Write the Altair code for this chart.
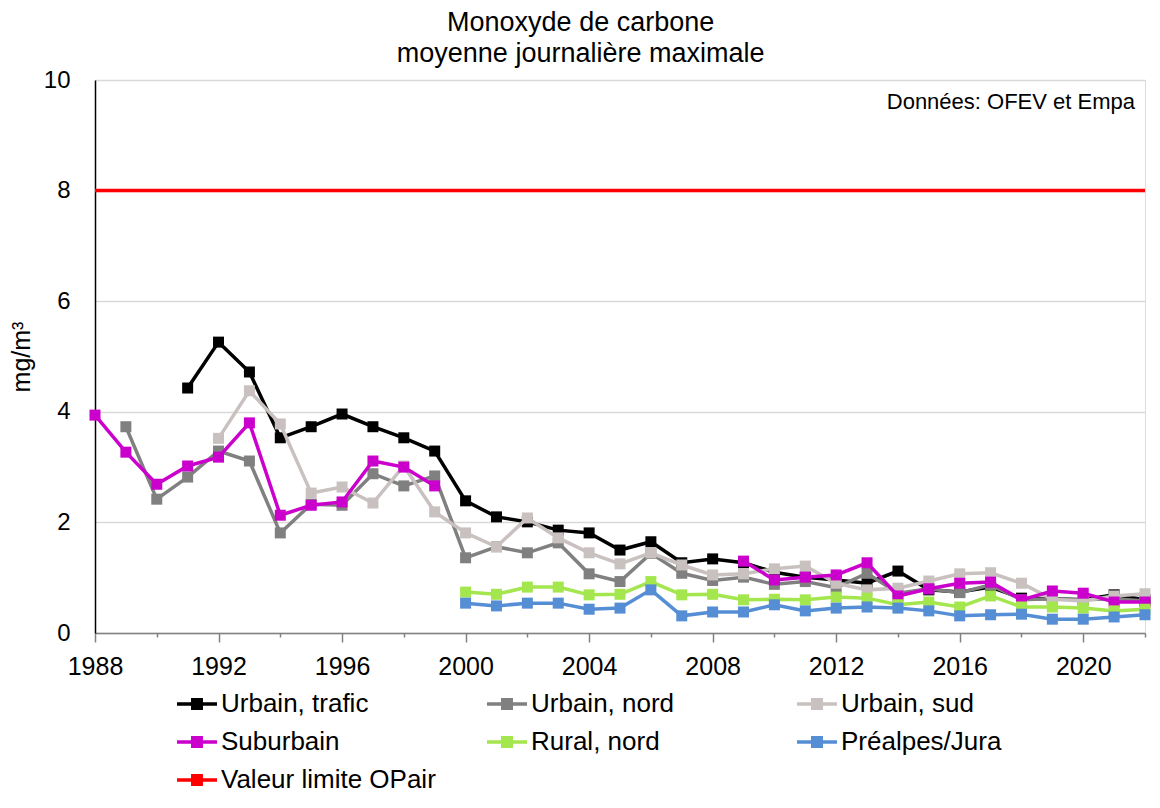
import altair as alt
import pandas as pd

FONT = "Liberation Sans"

years = list(range(1988, 2023))
N = None
urbain_trafic = [N, N, N, 4.43, 5.26, 4.72, 3.53, 3.73, 3.96, 3.73, 3.53, 3.29,
                 2.39, 2.10, 2.01, 1.86, 1.81, 1.50, 1.65, 1.27, 1.34, 1.27,
                 1.10, 1.01, 0.96, 0.90, 1.12, 0.78, 0.74, 0.83, 0.63, 0.62,
                 0.60, 0.69, 0.60]
urbain_nord = [N, 3.73, 2.42, 2.82, 3.29, 3.11, 1.81, 2.33, 2.31, 2.88, 2.66, 2.84,
               1.36, 1.56, 1.45, 1.63, 1.07, 0.93, 1.44, 1.08, 0.95, 1.01,
               0.88, 0.93, 0.82, 1.08, 0.72, 0.80, 0.73, 0.87, 0.60, 0.62,
               0.60, 0.62, 0.58]
urbain_sud = [N, N, N, N, 3.52, 4.38, 3.78, 2.53, 2.64, 2.35, 3.02, 2.19,
              1.81, 1.56, 2.08, 1.72, 1.45, 1.25, 1.45, 1.23, 1.05, 1.07,
              1.16, 1.21, 0.90, 0.78, 0.81, 0.94, 1.07, 1.09, 0.90, 0.61,
              0.58, 0.67, 0.71]
suburbain = [3.94, 3.27, 2.69, 3.02, 3.18, 3.80, 2.13, 2.31, 2.37, 3.11, 3.00, 2.66,
             N, N, N, N, N, N, N, N, N, 1.30,
             0.96, 1.01, 1.05, 1.27, 0.67, 0.80, 0.90, 0.92, 0.60, 0.76,
             0.72, 0.56, 0.56]
rural_nord = [N, N, N, N, N, N, N, N, N, N, N, N,
              0.74, 0.70, 0.83, 0.83, 0.69, 0.70, 0.93, 0.69, 0.70, 0.60,
              0.61, 0.60, 0.65, 0.63, 0.51, 0.56, 0.47, 0.67, 0.47, 0.47,
              0.45, 0.40, 0.43]
prealpes_jura = [N, N, N, N, N, N, N, N, N, N, N, N,
                 0.54, 0.49, 0.54, 0.54, 0.43, 0.45, 0.78, 0.31, 0.38, 0.38,
                 0.51, 0.40, 0.45, 0.47, 0.45, 0.40, 0.31, 0.33, 0.34, 0.25,
                 0.25, 0.29, 0.33]
limit_years = [1988, 2022]
limit_values = [8, 8]

series_names = ["Urbain, trafic", "Urbain, nord", "Urbain, sud",
                "Suburbain", "Rural, nord", "Préalpes/Jura", "Valeur limite OPair"]
series_colors = ["#000000", "#808080", "#c9c1bf", "#cc00cc", "#a3e64e", "#558ed5", "#ff0000"]
series_values = [urbain_trafic, urbain_nord, urbain_sud, suburbain, rural_nord, prealpes_jura]

# legend glyph: a 40px line with a 12px square, drawn in a 26px symbol box
LINE_SQ = "M-1.54,-0.135H1.54V0.135H-1.54Z M-0.46,-0.46H0.46V0.46H-0.46Z"

rows = []
for name, vals in zip(series_names[:6], series_values):
    for yr, v in zip(years, vals):
        rows.append({"year": yr, "value": v, "series": name})
for yr, v in zip(limit_years, limit_values):
    rows.append({"year": yr, "value": v, "series": series_names[6]})
df = pd.DataFrame(rows)

x_scale = alt.Scale(domain=[1988, 2022], nice=False, zero=False)
y_scale = alt.Scale(domain=[0, 10], nice=False)
color_scale = alt.Scale(domain=series_names, range=series_colors)

x_axis = alt.Axis(
    title=None, values=years, format="d",
    labelExpr="(datum.value - 1988) % 4 == 0 ? datum.label : ''",
    labelFont=FONT, labelFontSize=25, labelColor="black", labelPadding=12,
    tickColor="#808080", tickWidth=1.5,
    tickSize={"condition": {"test": "(datum.value - 1988) % 4 == 0", "value": 9}, "value": 4},
    domainColor="#808080", domainWidth=1.5, grid=False, labelFlush=False,
)
y_axis = alt.Axis(
    title="mg/m³", values=[0, 2, 4, 6, 8, 10], format="d",
    labelFont=FONT, labelFontSize=24, labelColor="black", labelPadding=25,
    ticks=False, domainColor="black", domainWidth=1.5,
    grid=True, gridColor="#d9d9d9", gridWidth=1.5,
    titleFont=FONT, titleFontSize=25, titleFontWeight="normal", titleColor="black",
    titlePadding=9,
)

base = alt.Chart(df).encode(
    x=alt.X("year:Q", scale=x_scale, axis=x_axis),
    y=alt.Y("value:Q", scale=y_scale, axis=y_axis),
    color=alt.Color("series:N", scale=color_scale, legend=None),
)

layers = []
for i, name in enumerate(series_names):
    sub = base.transform_filter(alt.datum.series == name)
    layers.append(sub.mark_line(strokeWidth=3.5, invalid="break-paths-show-domains"))
    if i < 6:
        layers.append(sub.mark_square(size=121, opacity=1, filled=True))

legend = alt.Legend(
    title=None, orient="none", legendX=89, legendY=611, columns=3,
    direction="horizontal",
    columnPadding=50, rowPadding=12, gridAlign="all",
    symbolType=LINE_SQ, symbolSize=676, symbolStrokeWidth=0, labelOffset=11,
    labelFont=FONT, labelFontSize=26, labelColor="black", labelLimit=400,
)
# transparent points that only carry the legend
legend_layer = alt.Chart(df).mark_point(filled=True, opacity=0).encode(
    x=alt.X("year:Q", scale=x_scale, axis=x_axis),
    y=alt.Y("value:Q", scale=y_scale, axis=y_axis),
    fill=alt.Fill("series:N", scale=color_scale, legend=legend),
)

src = alt.Chart(pd.DataFrame({"x": [2022], "y": [10], "t": ["Données: OFEV et Empa"]})).mark_text(
    align="right", baseline="top", dx=-10, dy=12, font=FONT, fontSize=22, color="black"
).encode(x=alt.X("x:Q", scale=x_scale), y=alt.Y("y:Q", scale=y_scale), text="t:N")

chart = alt.layer(*layers, legend_layer, src).properties(
    width=1144, height=787,
    autosize=alt.AutoSizeParams(type="fit", contains="padding"),
    padding={"left": 1, "top": 1, "right": 0, "bottom": 116},
    title=alt.TitleParams(
        text=["Monoxyde de carbone", "moyenne journalière maximale"],
        font=FONT, fontSize=27, fontWeight="normal", color="black",
        lineHeight=31, anchor="middle", frame="bounds", offset=0,
    ),
).resolve_scale(fill="independent", color="independent").configure_view(
    stroke="black", strokeWidth=1.5
).configure(background="white")

chart.save("out.html", embed_options={"renderer": "svg", "actions": False})
